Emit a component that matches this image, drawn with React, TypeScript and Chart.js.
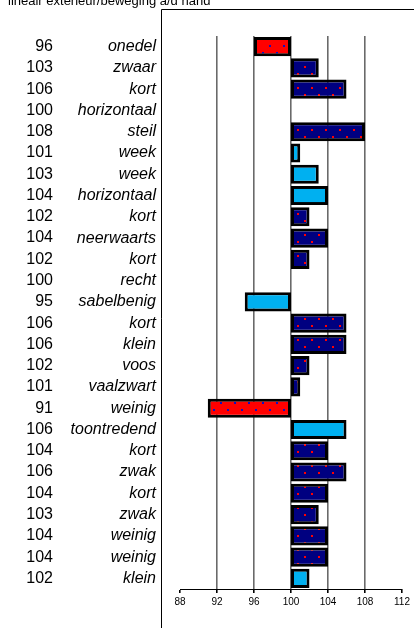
import React, { useEffect, useRef } from "react";
import { Chart, registerables } from "chart.js";

Chart.register(...registerables);

const titleText = "lineair exterieur/beweging a/d hand";
const categories = [
  "onedel", "zwaar", "kort", "horizontaal", "steil", "week", "week", "horizontaal",
  "kort", "neerwaarts", "kort", "recht", "sabelbenig", "kort", "klein", "voos",
  "vaalzwart", "weinig", "toontredend", "kort", "zwak", "kort", "zwak", "weinig",
  "weinig", "klein",
];
const scores = [
  96, 103, 106, 100, 108, 101, 103, 104, 102, 104, 102, 100, 95, 106, 106, 102,
  101, 91, 106, 104, 106, 104, 103, 104, 104, 102,
];
// r = red (below average, undesirable), n = navy, b = light blue
const barKinds = [
  "r", "n", "n", "n", "n", "b", "b", "b", "n", "n", "n", "n", "b", "n", "n", "n",
  "n", "r", "b", "n", "n", "n", "n", "n", "n", "b",
];
const baseValue = 100;
const xMin = 88;
const xMax = 112;
const xStep = 4;

const FONT = "'Liberation Sans', Arial, sans-serif";

function makePattern(bg: string, dot: string): CanvasPattern | string {
  const c = document.createElement("canvas");
  c.width = 14;
  c.height = 14;
  const g = c.getContext("2d");
  if (!g) return bg;
  g.fillStyle = bg;
  g.fillRect(0, 0, 14, 14);
  g.fillStyle = dot;
  g.fillRect(3, 3, 2, 2);
  g.fillRect(10, 10, 2, 2);
  const p = g.createPattern(c, "repeat");
  return p || bg;
}

export default function App() {
  const ref = useRef<HTMLCanvasElement | null>(null);

  useEffect(() => {
    const canvas = ref.current;
    if (!canvas) return;
    const ctx = canvas.getContext("2d");
    if (!ctx) return;
    const redFill = makePattern("#FF0000", "#1010C0");
    const navyFill = makePattern("#000080", "#FF0000");
    const blueFill = "#00B0F0";

    const fills = barKinds.map((k) => (k === "r" ? redFill : k === "n" ? navyFill : blueFill));
    const data = scores.map((v) => (v === baseValue ? null : [baseValue, v]));

    const frame = {
      id: "frame",
      beforeDraw(chart: any) {
        const c = chart.ctx;
        c.save();
        c.strokeStyle = "#000";
        c.lineWidth = 1;
        c.beginPath();
        c.moveTo(161.5, chart.height);
        c.lineTo(161.5, 9.5);
        c.lineTo(chart.width, 9.5);
        c.stroke();
        c.restore();
      },
    };

    const chart = new Chart(ctx, {
      type: "bar",
      data: {
        labels: categories,
        datasets: [
          {
            data: data as any,
            backgroundColor: fills as any,
            borderColor: "#000",
            borderWidth: 3,
            borderSkipped: false,
            barPercentage: 0.9,
            categoryPercentage: 1,
          },
        ],
      },
      options: {
        indexAxis: "y",
        animation: false,
        responsive: false,
        layout: { padding: { left: 8, right: 12, top: 0, bottom: 17 } },
        plugins: {
          legend: { display: false },
          tooltip: { enabled: false },
          title: {
            display: true,
            text: titleText,
            align: "start",
            color: "#000",
            font: { family: FONT, size: 13, weight: "normal" },
            padding: { top: -6.3, bottom: 26.7 },
          },
        },
        scales: {
          x: {
            type: "linear",
            min: xMin,
            max: xMax,
            ticks: {
              stepSize: xStep,
              color: "#000",
              padding: 3,
              font: { family: FONT, size: 10 },
            },
            grid: {
              color: (c: any) =>
                c.tick && (c.tick.value === xMin || c.tick.value === xMax)
                  ? "rgba(0,0,0,0)"
                  : "#6a6a6a",
              lineWidth: 1.6,
              tickColor: "#000",
              tickLength: 4,
            },
            border: { display: true, color: "#000", width: 1 },
          },
          y: {
            type: "category",
            position: "left",
            weight: 0,
            offset: true,
            afterFit: (s: any) => {
              s.width = 127;
            },
            ticks: {
              autoSkip: false,
              color: "#000",
              padding: 24,
              font: { family: FONT, size: 16, style: "italic" },
            },
            grid: { display: false, drawTicks: false },
            border: { display: false },
          },
          y2: {
            type: "category",
            position: "left",
            weight: 10,
            offset: true,
            labels: scores.map((v) => String(v)),
            min: 0,
            max: scores.length - 1,
            afterFit: (s: any) => {
              s.width = 45;
            },
            ticks: {
              autoSkip: false,
              color: "#000",
              padding: 0,
              font: { family: FONT, size: 16 },
            },
            grid: { display: false, drawTicks: false },
            border: { display: false },
          },
        },
      },
      plugins: [frame],
    });
    return () => chart.destroy();
  }, []);

  return (
    <div style={{ position: "absolute", left: 0, top: 0, width: 414, height: 628, background: "#fff" }}>
      <canvas ref={ref} width={414} height={628} />
    </div>
  );
}
